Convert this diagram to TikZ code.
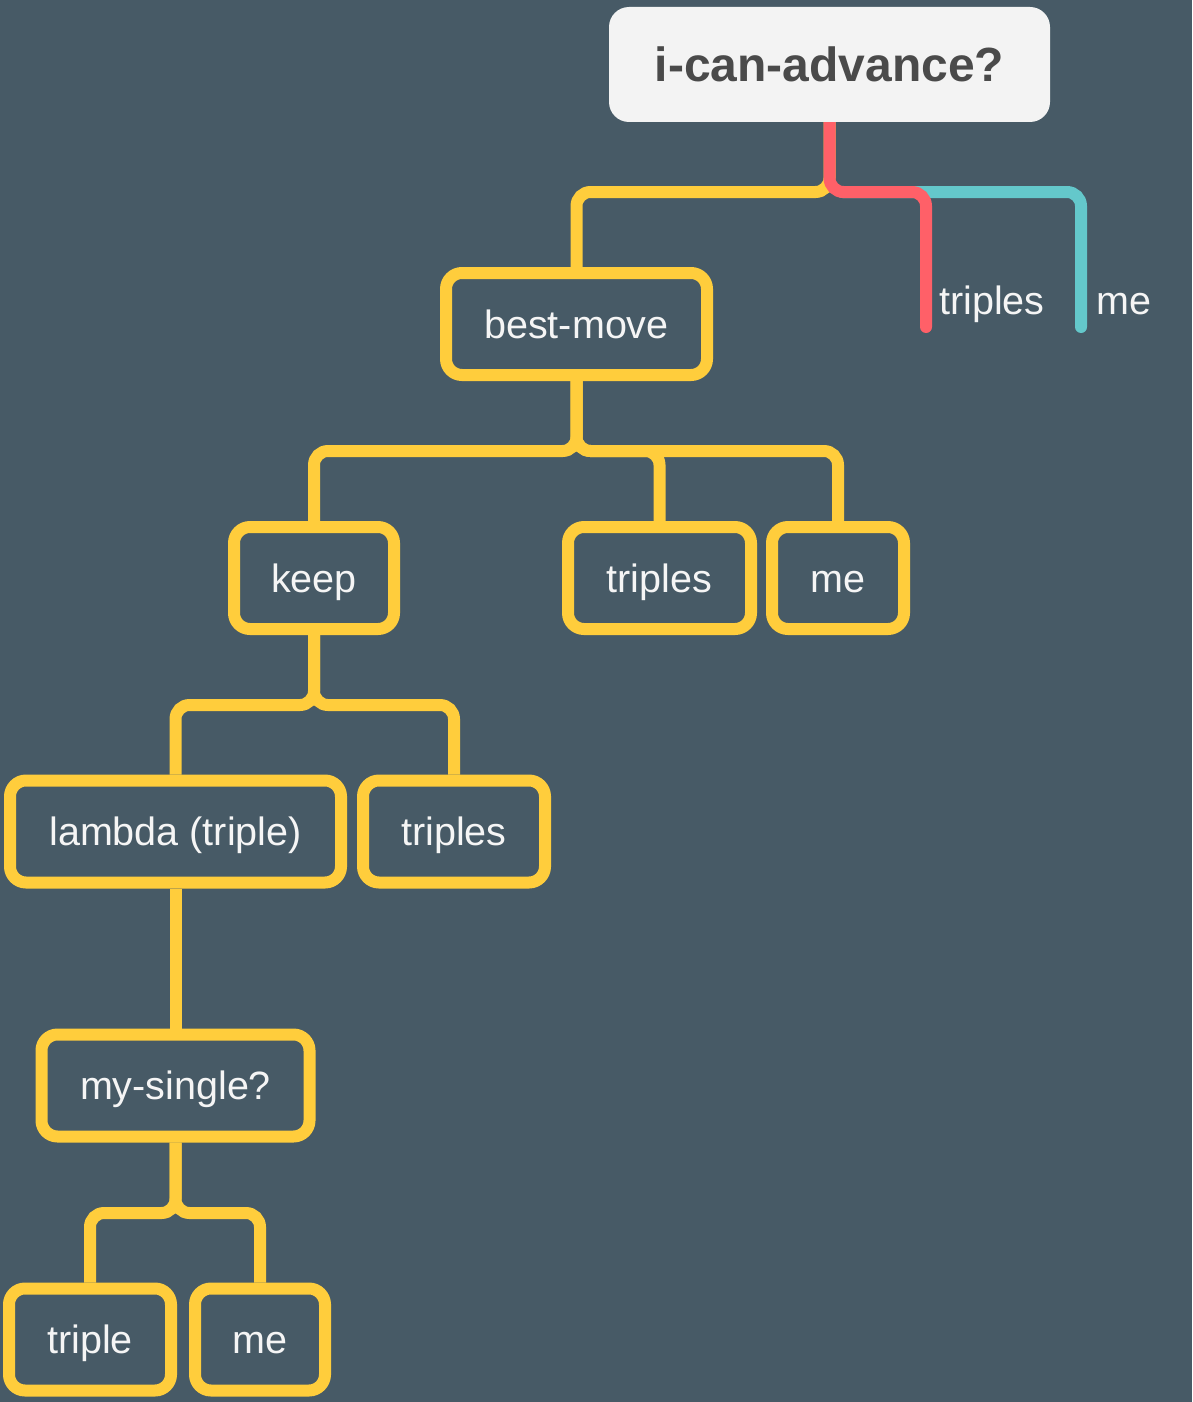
\documentclass[tikz,border=0pt]{standalone}
\usepackage{fontspec}
\setmainfont{Liberation Sans}
\definecolor{bgc}{HTML}{475A66}
\definecolor{yel}{HTML}{FFCD3C}
\definecolor{redc}{HTML}{FF6068}
\definecolor{tealc}{HTML}{64C8CB}
\definecolor{rootfill}{HTML}{F3F3F3}
\definecolor{roottxt}{HTML}{4A4A4A}
\definecolor{txt}{HTML}{F5F5F5}
\pgfdeclarelayer{bgl}
\pgfdeclarelayer{edgel}
\pgfsetlayers{bgl,edgel,main}
\begin{document}
\begin{tikzpicture}[x=1pt,y=-1pt,
  box/.style={draw=yel, line width=12pt, rounded corners=16pt, fill=bgc, text=txt,
    minimum height=102pt, inner sep=0pt, text height=36pt, text depth=8pt,
    font=\fontsize{39.5}{46}\selectfont},
  rootbox/.style={fill=rootfill, rounded corners=20pt, text=roottxt, minimum width=441pt,
    minimum height=115pt, inner sep=0pt, font=\fontsize{48}{56}\selectfont\bfseries},
  edge/.style={draw=yel, line width=12pt, rounded corners=14pt},
  lbl/.style={text=txt, inner sep=0pt, font=\fontsize{39.5}{46}\selectfont}
]
\begin{pgfonlayer}{bgl}
\fill[bgc] (0,0) rectangle (1192,1402);
\end{pgfonlayer}
\useasboundingbox (0,0) rectangle (1192,1402);

\node[rootbox] (root) at (829.5,64.5) {i-can-advance?};
\node[box, minimum width=261pt] (best) at (576.5,324) {best-move};
\node[box, minimum width=160pt] (keep) at (314,578) {keep};
\node[box, minimum width=183pt] (tri1) at (659.5,578) {triples};
\node[box, minimum width=132pt] (me1) at (838,578) {me};
\node[box, minimum width=331pt] (lam) at (175.5,831.5) {lambda (triple)};
\node[box, minimum width=182pt] (tri2) at (454,831.5) {triples};
\node[box, minimum width=268pt] (mys) at (175.5,1085.5) {my-single?};
\node[box, minimum width=162pt] (trip) at (90,1339.5) {triple};
\node[box, minimum width=130pt] (me2) at (260,1339.5) {me};

\node[lbl, anchor=base west] (l1) at (939,314) {triples};
\node[lbl, anchor=base west] (l2) at (1096,314) {me};

\coordinate (r0) at (0,192);
\coordinate (b1) at (0,451);
\coordinate (b2) at (0,705);
\coordinate (b3) at (0,1213);
\coordinate (rend) at (926,327);
\coordinate (tstart) at (842,192);
\coordinate (tend) at (1081,327);

\begin{pgfonlayer}{edgel}
\draw[edge, draw=tealc, line cap=round] (tstart) -- (tend |- r0) -- (tend);
\draw[edge] (root.south) -- (root.south |- r0) -- (best.north |- r0) -- (best.north);
\draw[edge, draw=redc, line cap=round] (root.south) -- (root.south |- r0) -- (rend |- r0) -- (rend);

\draw[edge] (best.south) -- (best.south |- b1) -- (keep.north |- b1) -- (keep.north);
\draw[edge] (best.south) -- (best.south |- b1) -- (tri1.north |- b1) -- (tri1.north);
\draw[edge] (best.south) -- (best.south |- b1) -- (me1.north |- b1) -- (me1.north);

\draw[edge] (keep.south) -- (keep.south |- b2) -- (lam.north |- b2) -- (lam.north);
\draw[edge] (keep.south) -- (keep.south |- b2) -- (tri2.north |- b2) -- (tri2.north);

\draw[edge] (lam.south) -- (mys.north);

\draw[edge] (mys.south) -- (mys.south |- b3) -- (trip.north |- b3) -- (trip.north);
\draw[edge] (mys.south) -- (mys.south |- b3) -- (me2.north |- b3) -- (me2.north);
\end{pgfonlayer}
\end{tikzpicture}
\end{document}
